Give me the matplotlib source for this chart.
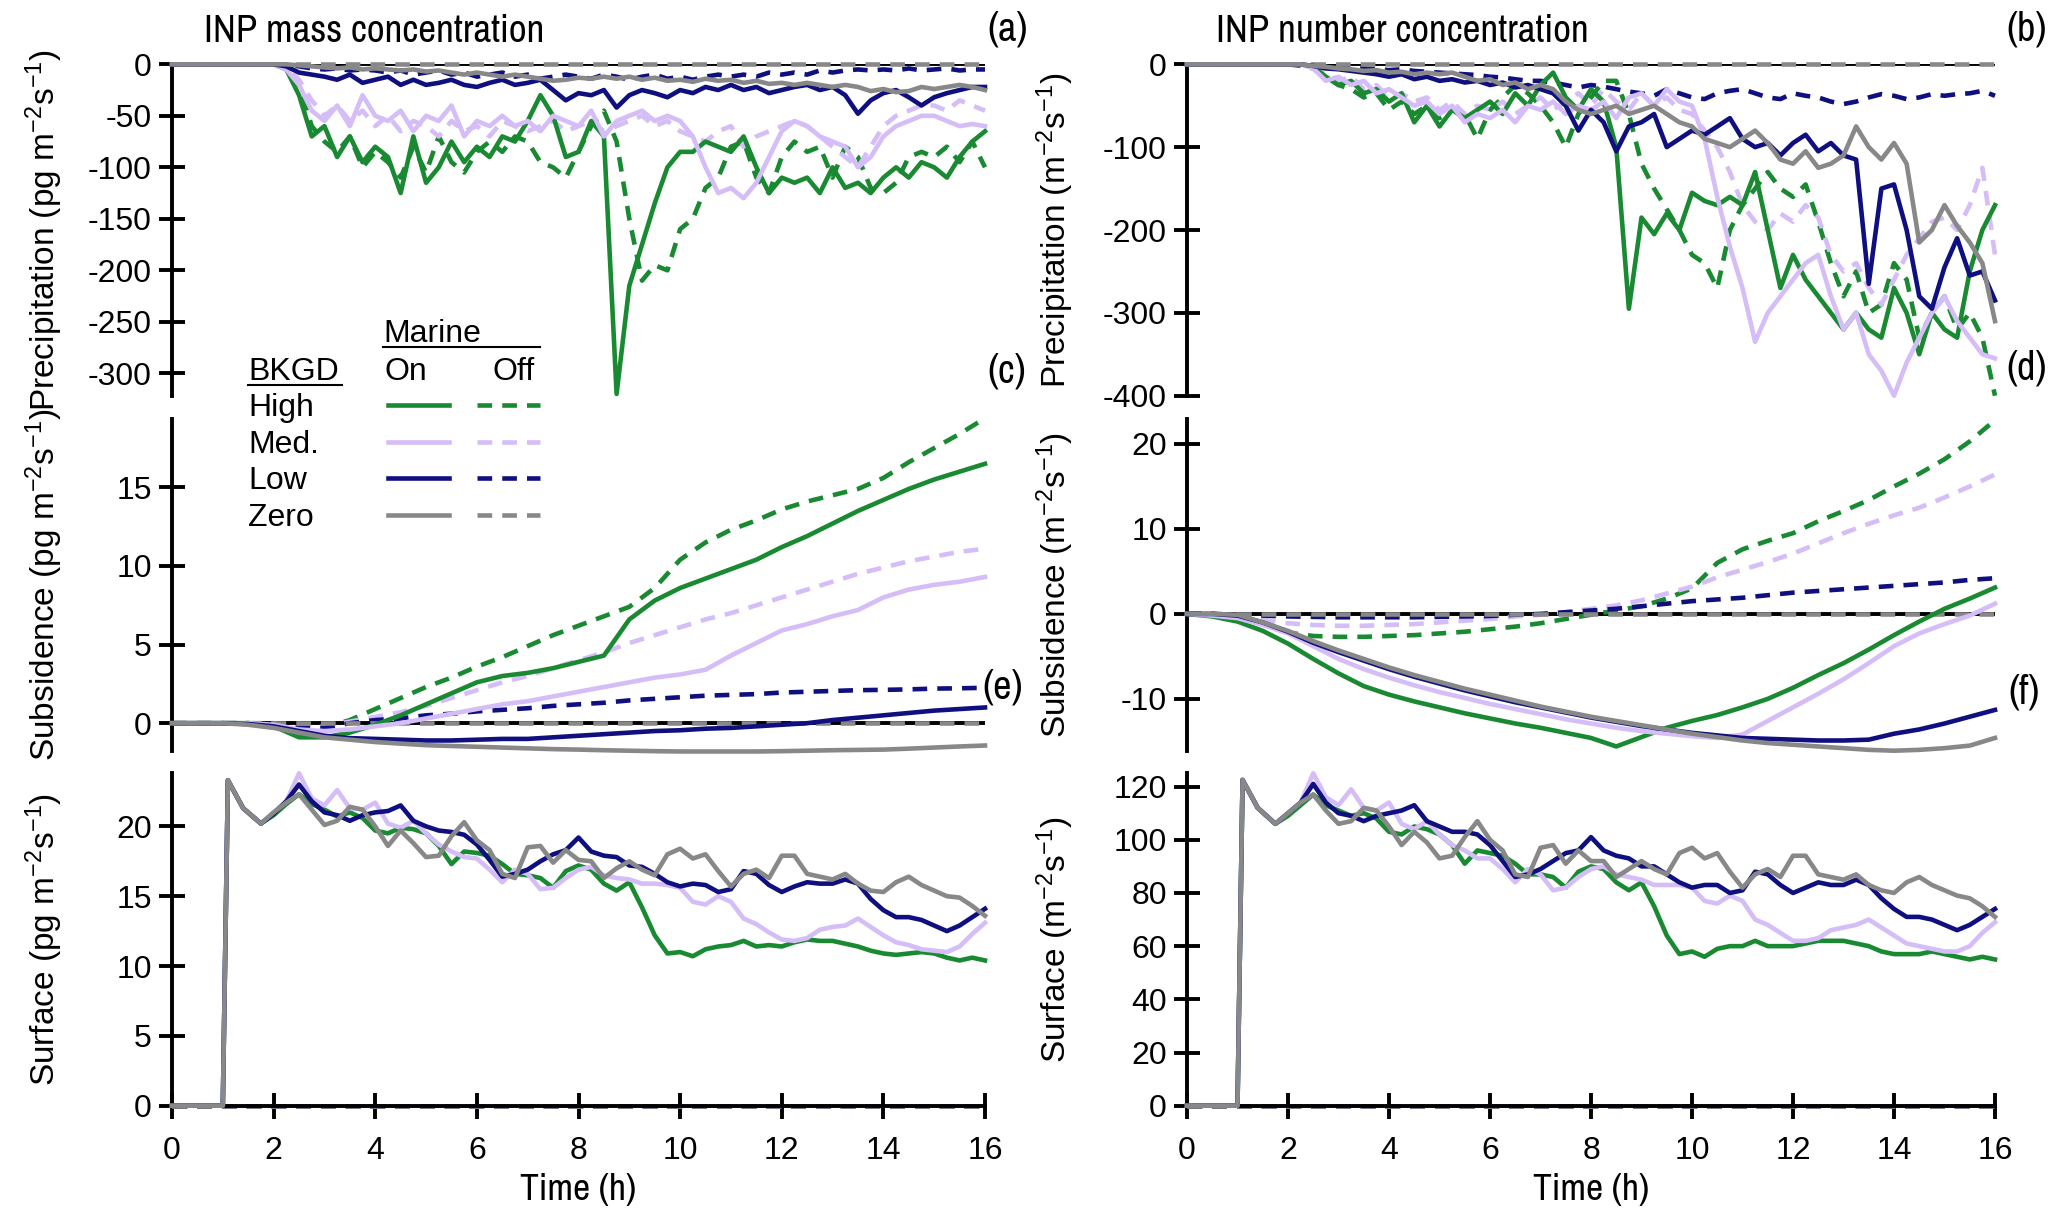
import numpy as np
import matplotlib
matplotlib.use("Agg")
from matplotlib import pyplot as plt
from matplotlib.lines import Line2D

plt.rcParams["font.family"] = ["Liberation Sans", "DejaVu Sans"]
plt.rcParams["mathtext.fontset"] = "custom"
plt.rcParams["mathtext.rm"] = "Liberation Sans"
plt.rcParams["mathtext.it"] = "Liberation Sans:italic"
plt.rcParams["mathtext.default"] = "regular"
plt.rcParams["axes.unicode_minus"] = False

NARROW = ["Archivo Narrow", "Liberation Sans", "DejaVu Sans"]

# ---------------- data ----------------
# precipitation: t = 0, then 2.0 ... 16.0 every 0.25 h
prec_time = np.concatenate([[0.0], np.arange(2.0, 16.01, 0.25)])

a_high_on = [0,
    0, -5, -30, -70,  -60, -90, -70, -95,  -80, -90, -125, -70,  -115, -100, -75, -95,
    -80, -90, -70, -75,  -55, -30, -50, -90,  -85, -55, -70, -320,  -215, -175, -135, -100,
    -85, -85, -75, -80,  -85, -70, -100, -125,  -110, -115, -110, -125,  -100, -120, -115, -125,
    -110, -100, -110, -95,  -100, -110, -90, -75,  -65]
a_high_off = [0,
    0, -3, -20, -60,  -75, -85, -70, -100,  -85, -95, -110, -80,  -105, -70, -95, -105,
    -85, -75, -85, -70,  -75, -95, -100, -110,  -85, -60, -45, -75,  -150, -210, -195, -200,
    -160, -150, -120, -110,  -80, -75, -110, -125,  -90, -75, -85, -80,  -110, -80, -90, -120,
    -125, -115, -90, -85,  -90, -80, -95, -75,  -100]
a_med_on = [0,
    0, -5, -20, -45,  -55, -40, -60, -30,  -50, -55, -45, -65,  -50, -55, -40, -70,
    -55, -60, -50, -60,  -55, -65, -50, -55,  -60, -45, -70, -55,  -50, -45, -55, -50,
    -55, -70, -100, -125,  -120, -130, -115, -90,  -65, -55, -60, -70,  -75, -80, -100, -90,
    -70, -60, -55, -50,  -50, -55, -60, -58,  -60]
a_med_off = [0,
    0, -3, -15, -35,  -50, -40, -55, -45,  -60, -50, -65, -55,  -60, -70, -55, -65,
    -60, -70, -55, -60,  -65, -60, -55, -65,  -60, -55, -65, -60,  -55, -50, -60, -55,
    -65, -70, -75, -65,  -60, -80, -70, -65,  -60, -55, -60, -70,  -80, -90, -100, -80,
    -60, -50, -45, -40,  -40, -45, -35, -40,  -45]
a_low_on = [0,
    0, -2, -8, -10,  -12, -15, -10, -18,  -15, -12, -20, -15,  -20, -18, -15, -20,
    -22, -18, -15, -20,  -18, -15, -25, -35,  -28, -30, -25, -42,  -30, -25, -28, -32,
    -25, -28, -22, -25,  -20, -25, -22, -28,  -25, -22, -20, -25,  -22, -30, -48, -35,
    -28, -25, -32, -40,  -32, -28, -25, -22,  -22]
a_low_off = [0,
    0, 0, -2, -4,  -5, -4, -6, -5,  -6, -8, -6, -10,  -8, -6, -10, -8,
    -12, -10, -8, -12,  -10, -14, -12, -10,  -12, -14, -10, -12,  -15, -12, -10, -14,
    -12, -15, -12, -10,  -12, -10, -12, -8,  -10, -8, -10, -6,  -8, -6, -5, -6,
    -5, -6, -4, -6,  -5, -4, -6, -5,  -5]
a_zero_on = [0,
    0, 0, -1, -2,  -3, -4, -3, -5,  -4, -5, -6, -5,  -7, -6, -8, -10,
    -8, -10, -12, -10,  -12, -14, -16, -15,  -13, -14, -12, -14,  -12, -15, -13, -16,
    -15, -17, -14, -16,  -15, -18, -16, -19,  -18, -20, -18, -20,  -22, -20, -22, -26,
    -24, -27, -26, -22,  -24, -22, -20, -22,  -25]
a_zero_off = np.zeros(len(prec_time))

b_high_on = [0,
    0, 0, -3, -15,  -25, -20, -35, -30,  -45, -35, -70, -50,  -75, -55, -65, -55,
    -45, -60, -35, -50,  -25, -10, -40, -55,  -30, -45, -100, -295,  -185, -205, -180, -200,
    -155, -165, -170, -160,  -170, -130, -200, -270,  -230, -260, -280, -300,  -320, -300, -320, -330,
    -270, -300, -350, -300,  -320, -330, -250, -200,  -170]
b_high_off = [0,
    0, -2, -5, -15,  -25, -30, -40, -35,  -55, -45, -60, -50,  -65, -55, -60, -90,
    -55, -40, -25, -35,  -50, -70, -100, -60,  -40, -20, -20, -60,  -120, -150, -175, -200,
    -230, -240, -270, -200,  -170, -150, -130, -150,  -160, -145, -190, -240,  -280, -250, -300, -290,
    -240, -260, -330, -300,  -280, -320, -300, -330,  -400]
b_med_on = [0,
    0, 0, -5, -20,  -15, -25, -20, -35,  -30, -40, -50, -45,  -60, -50, -70, -60,
    -65, -55, -70, -50,  -55, -45, -60, -50,  -55, -45, -65, -40,  -35, -50, -30, -45,
    -50, -90, -160, -220,  -270, -335, -300, -280,  -260, -240, -230, -280,  -320, -300, -350, -370,
    -400, -360, -330, -300,  -280, -310, -330, -350,  -355]
b_med_off = [0,
    0, 0, -5, -10,  -20, -15, -30, -25,  -40, -35, -45, -40,  -55, -45, -60, -50,
    -55, -45, -60, -50,  -40, -55, -45, -35,  -50, -30, -45, -55,  -35, -50, -40, -55,
    -60, -80, -100, -130,  -170, -190, -200, -180,  -190, -170, -185, -230,  -250, -240, -270, -290,
    -260, -230, -210, -190,  -185, -200, -170, -125,  -230]
b_low_on = [0,
    0, 0, -2, -5,  -6, -8, -10, -12,  -15, -12, -18, -15,  -20, -18, -22, -20,
    -25, -22, -28, -25,  -30, -35, -50, -80,  -55, -70, -105, -75,  -70, -60, -100, -90,
    -80, -85, -75, -65,  -90, -100, -95, -110,  -95, -85, -105, -95,  -110, -115, -265, -150,
    -145, -200, -280, -295,  -245, -210, -255, -250,  -285]
b_low_off = [0,
    0, 0, -1, -2,  -3, -4, -5, -6,  -7, -6, -8, -9,  -10, -11, -12, -13,
    -15, -16, -18, -20,  -20, -22, -25, -28,  -25, -27, -30, -33,  -35, -38, -30, -35,
    -40, -42, -35, -32,  -30, -35, -40, -42,  -35, -38, -40, -45,  -48, -45, -40, -36,
    -38, -42, -40, -36,  -38, -36, -35, -32,  -38]
b_zero_on = [0,
    0, 0, -2, -3,  -5, -6, -8, -7,  -10, -9, -12, -10,  -12, -10, -15, -20,
    -18, -25, -22, -30,  -25, -30, -45, -55,  -60, -55, -50, -60,  -55, -50, -60, -70,
    -75, -90, -95, -100,  -90, -80, -95, -115,  -120, -105, -125, -120,  -110, -75, -100, -115,
    -95, -120, -215, -200,  -170, -195, -215, -240,  -310]
b_zero_off = np.zeros(len(prec_time))

# subsidence: every 0.5 h
sub_time = np.arange(0.0, 16.01, 0.5)

c_high_on = [0, 0, 0, 0, -0.2, -0.9, -0.9, -0.6, -0.1, 0.5, 1.2, 1.9, 2.6, 3.0, 3.2, 3.5, 3.9,
             4.3, 6.6, 7.8, 8.6, 9.2, 9.8, 10.4, 11.2, 11.9, 12.7, 13.5, 14.2, 14.9, 15.5, 16.0, 16.5]
c_high_off = [0, 0, 0, 0, 0, -0.3, -0.3, 0.2, 0.9, 1.6, 2.3, 2.9, 3.6, 4.2, 4.9, 5.6, 6.2,
              6.8, 7.4, 8.6, 10.4, 11.5, 12.3, 12.9, 13.6, 14.1, 14.5, 14.9, 15.6, 16.6, 17.5, 18.4, 19.4]
c_med_on = [0, 0, 0, 0, -0.1, -0.4, -0.5, -0.4, -0.2, 0.0, 0.3, 0.6, 0.9, 1.2, 1.4, 1.7, 2.0,
            2.3, 2.6, 2.9, 3.1, 3.4, 4.3, 5.1, 5.9, 6.3, 6.8, 7.2, 8.0, 8.5, 8.8, 9.0, 9.3]
c_med_off = [0, 0, 0, 0, -0.1, -0.4, -0.2, 0.1, 0.4, 0.7, 1.1, 1.6, 2.1, 2.6, 3.0, 3.5, 4.0,
             4.5, 5.1, 5.6, 6.1, 6.6, 7.0, 7.5, 8.0, 8.5, 9.0, 9.5, 9.9, 10.3, 10.6, 10.9, 11.1]
c_low_on = [0, 0, 0, -0.05, -0.2, -0.5, -0.8, -0.95, -1.0, -1.05, -1.1, -1.1, -1.05, -1.0, -1.0, -0.9, -0.8,
            -0.7, -0.6, -0.5, -0.45, -0.35, -0.3, -0.2, -0.1, 0.0, 0.2, 0.35, 0.5, 0.65, 0.8, 0.9, 1.0]
c_low_off = [0, 0, 0, 0, -0.1, -0.3, -0.3, 0.0, 0.2, 0.3, 0.5, 0.6, 0.75, 0.85, 0.95, 1.1, 1.2,
             1.3, 1.45, 1.55, 1.65, 1.75, 1.8, 1.85, 1.95, 2.0, 2.05, 2.1, 2.12, 2.15, 2.2, 2.22, 2.25]
c_zero_on = [0, 0, 0, -0.1, -0.3, -0.6, -0.9, -1.05, -1.2, -1.3, -1.4, -1.45, -1.5, -1.55, -1.6, -1.65, -1.68,
             -1.72, -1.75, -1.78, -1.8, -1.8, -1.8, -1.8, -1.78, -1.75, -1.72, -1.7, -1.68, -1.62, -1.55, -1.48, -1.42]
c_zero_off = np.zeros(len(sub_time))

d_high_on = [0, -0.3, -0.9, -2.0, -3.5, -5.3, -7.0, -8.5, -9.5, -10.3, -11.0, -11.7, -12.3, -12.9, -13.4, -14.0, -14.6,
             -15.6, -14.5, -13.4, -12.6, -11.9, -11.0, -10.0, -8.7, -7.2, -5.8, -4.2, -2.5, -0.9, 0.6, 1.8, 3.1]
d_high_off = [0, 0, -0.3, -1.2, -2.2, -2.6, -2.7, -2.7, -2.6, -2.5, -2.3, -2.1, -1.8, -1.5, -1.1, -0.6, -0.1,
              0.4, 0.9, 1.8, 3.0, 6.0, 7.6, 8.6, 9.5, 10.9, 12.1, 13.4, 15.0, 16.5, 18.2, 20.3, 22.8]
d_med_on = [0, -0.2, -0.5, -1.3, -2.3, -3.8, -5.3, -6.5, -7.5, -8.4, -9.2, -9.9, -10.6, -11.2, -11.8, -12.4, -12.9,
            -13.4, -13.8, -14.1, -14.4, -14.6, -14.2, -12.6, -11.0, -9.4, -7.7, -5.8, -3.8, -2.3, -1.2, -0.2, 1.2]
d_med_off = [0, 0, -0.3, -0.7, -1.1, -1.3, -1.4, -1.4, -1.3, -1.2, -1.0, -0.8, -0.6, -0.3, -0.1, 0.2, 0.6,
             1.0, 1.6, 2.4, 3.2, 4.3, 5.2, 6.1, 7.1, 8.3, 9.5, 10.6, 11.6, 12.5, 13.7, 15.0, 16.4]
d_low_on = [0, 0, -0.2, -1.0, -2.1, -3.4, -4.5, -5.5, -6.5, -7.4, -8.2, -9.0, -9.7, -10.4, -11.0, -11.6, -12.2,
            -12.7, -13.2, -13.6, -14.0, -14.3, -14.6, -14.7, -14.8, -14.9, -14.9, -14.8, -14.1, -13.6, -12.9, -12.1, -11.3]
d_low_off = [0, 0, -0.1, -0.2, -0.3, -0.35, -0.4, -0.4, -0.4, -0.4, -0.35, -0.3, -0.25, -0.1, 0.0, 0.2, 0.4,
             0.6, 0.9, 1.2, 1.5, 1.7, 1.9, 2.2, 2.5, 2.7, 2.9, 3.1, 3.3, 3.5, 3.7, 4.0, 4.2]
d_zero_on = [0, 0, -0.1, -1.0, -2.0, -3.2, -4.3, -5.3, -6.3, -7.2, -8.0, -8.8, -9.5, -10.2, -10.9, -11.5, -12.1,
             -12.6, -13.1, -13.6, -14.1, -14.5, -14.9, -15.2, -15.4, -15.6, -15.8, -16.0, -16.1, -16.0, -15.8, -15.5, -14.6]
d_zero_off = np.zeros(len(sub_time))

# surface emission: t = 0, 1.0, 1.1, 1.4, 1.75, then 2.0 ... 16.0 every 0.25 h
surf_time = np.concatenate([[0.0, 1.0, 1.1, 1.4, 1.75], np.arange(2.0, 16.01, 0.25)])

e_high_on = [0, 0, 23.3, 21.3, 20.2,
    20.8, 21.6, 22.3, 21.6,  21.2, 20.7, 21.0, 20.6,  19.7, 19.5, 19.9, 19.8,  19.5, 18.6, 17.3, 18.2,
    18.1, 17.9, 17.3, 16.6,  16.5, 16.3, 15.6, 16.8,  17.2, 16.9, 15.9, 15.4,  16.0, 14.2, 12.2, 10.9,
    11.0, 10.7, 11.2, 11.4,  11.5, 11.8, 11.4, 11.5,  11.4, 11.7, 11.9, 11.8,  11.8, 11.6, 11.4, 11.1,
    10.9, 10.8, 10.9, 11.0,  10.9, 10.6, 10.4, 10.6,  10.4]
e_med_on = [0, 0, 23.3, 21.3, 20.2,
    21.0, 21.8, 23.8, 22.0,  21.5, 22.6, 21.3, 21.2,  21.7, 20.2, 19.9, 20.4,  19.5, 18.7, 18.2, 17.8,
    17.7, 16.9, 16.0, 16.9,  16.6, 15.5, 15.6, 16.3,  16.9, 17.1, 16.5, 16.3,  16.2, 15.9, 15.9, 15.8,
    15.6, 14.6, 14.4, 15.0,  14.6, 13.4, 13.0, 12.4,  11.9, 11.8, 12.0, 12.6,  12.8, 12.9, 13.4, 12.8,
    12.2, 11.7, 11.5, 11.2,  11.1, 11.0, 11.4, 12.3,  13.1]
e_low_on = [0, 0, 23.3, 21.3, 20.2,
    20.9, 21.8, 23.0, 21.8,  21.0, 20.8, 20.4, 20.8,  21.0, 21.1, 21.5, 20.4,  20.0, 19.7, 19.6, 19.4,
    18.7, 17.6, 16.4, 16.6,  16.9, 17.5, 18.0, 18.3,  19.2, 18.2, 17.9, 17.8,  17.2, 17.1, 16.6, 16.0,
    15.7, 15.9, 15.8, 15.3,  15.5, 16.8, 16.6, 15.8,  15.3, 15.7, 16.0, 15.9,  15.9, 16.2, 15.9, 14.8,
    14.0, 13.5, 13.5, 13.3,  12.9, 12.5, 12.9, 13.5,  14.1]
e_zero_on = [0, 0, 23.3, 21.3, 20.2,
    21.0, 21.7, 22.3, 21.2,  20.1, 20.4, 21.4, 21.2,  20.0, 18.6, 19.7, 18.8,  17.8, 17.9, 19.3, 20.3,
    19.0, 18.3, 16.6, 16.3,  18.5, 18.6, 17.4, 18.3,  17.6, 17.5, 16.3, 17.0,  17.5, 16.9, 16.5, 18.0,
    18.4, 17.7, 18.0, 16.8,  15.7, 16.6, 16.9, 16.3,  17.9, 17.9, 16.6, 16.4,  16.2, 16.6, 15.9, 15.4,
    15.3, 16.0, 16.4, 15.8,  15.4, 15.0, 14.9, 14.3,  13.6]
e_off = np.zeros(len(surf_time))

f_high_on = [0, 0, 122.5, 112, 106,
    109, 113, 117, 113,  111, 109, 110, 108,  103, 102, 105, 104,  102, 98, 91, 96,
    95, 94, 91, 87,  87, 86, 82, 88,  90, 89, 84, 81,  84, 75, 64, 57,
    58, 56, 59, 60,  60, 62, 60, 60,  60, 61, 62, 62,  62, 61, 60, 58,
    57, 57, 57, 58,  57, 56, 55, 56,  55]
f_med_on = [0, 0, 122.5, 112, 106,
    110, 114, 125, 116,  113, 119, 112, 111,  114, 106, 104, 107,  102, 98, 96, 93,
    93, 89, 84, 89,  87, 81, 82, 86,  89, 90, 87, 86,  85, 83, 83, 83,
    82, 77, 76, 79,  77, 70, 68, 65,  62, 62, 63, 66,  67, 68, 70, 67,
    64, 61, 60, 59,  58, 58, 60, 65,  69]
f_low_on = [0, 0, 122.5, 112, 106,
    110, 114, 121, 114,  110, 109, 107, 109,  110, 111, 113, 107,  105, 103, 103, 102,
    98, 92, 86, 87,  89, 92, 95, 96,  101, 96, 94, 93,  90, 90, 87, 84,
    82, 83, 83, 80,  81, 88, 87, 83,  80, 82, 84, 83,  83, 85, 83, 78,
    74, 71, 71, 70,  68, 66, 68, 71,  74]
f_zero_on = [0, 0, 122.5, 112, 106,
    110, 114, 117, 111,  106, 107, 112, 111,  105, 98, 103, 99,  93, 94, 101, 107,
    100, 96, 87, 86,  97, 98, 91, 96,  92, 92, 86, 89,  92, 89, 87, 95,
    97, 93, 95, 88,  82, 87, 89, 86,  94, 94, 87, 86,  85, 87, 83, 81,
    80, 84, 86, 83,  81, 79, 78, 75,  71]
f_off = np.zeros(len(surf_time))

levels = ["High", "Med.", "Low", "Zero"]
colors = ["#1a8a32", "#d5bdf8", "#0f0f80", "#888888"]

# ---------------- figure ----------------
W, H = 2067, 1219
fig = plt.figure(figsize=(W / 100, H / 100), dpi=100)


def rect(left, right, top, bottom):
    return [left / W, 1 - bottom / H, (right - left) / W, (bottom - top) / H]


LW = 3.3
DASH = (3.2, 2.2)
AXW = 2.8


def style(ax, ylim, yticks, bottom=False):
    ax.set_xlim(0, 16)
    ax.set_ylim(ylim)
    ax.patch.set_visible(False)
    for s in ["top", "right"]:
        ax.spines[s].set_visible(False)
    ax.spines["left"].set_linewidth(AXW)
    ax.set_yticks(yticks)
    ax.tick_params(axis="y", direction="inout", length=19, width=AXW,
                   labelsize=23, pad=5)
    if bottom:
        ax.spines["bottom"].set_linewidth(AXW)
        ax.set_xticks(range(0, 17, 2))
        ax.tick_params(axis="x", direction="inout", length=19, width=AXW,
                       labelsize=23, pad=12)
    else:
        ax.spines["bottom"].set_visible(False)
        ax.set_xticks([])
        ax.axhline(0, color="black", lw=AXW, zorder=1)


def draw(ax, t, on_series, off_series):
    for y, c in zip(off_series, colors):
        ax.plot(t, y, color=c, lw=LW, ls=(0, DASH), clip_on=False, zorder=2)
    for y, c in zip(on_series, colors):
        ax.plot(t, y, color=c, lw=LW, clip_on=False, zorder=3)


ax_a = fig.add_axes(rect(172, 985, 64.3, 396))
ax_b = fig.add_axes(rect(1187, 1995, 64.3, 395.7))
ax_c = fig.add_axes(rect(172, 985, 419.3, 750.7))
ax_d = fig.add_axes(rect(1187, 1995, 419.3, 750.7))
ax_e = fig.add_axes(rect(172, 985, 773.3, 1105.7))
ax_f = fig.add_axes(rect(1187, 1995, 773.3, 1105.7))

style(ax_a, (-322, 0), range(0, -301, -50))
style(ax_b, (-400, 0), range(0, -401, -100))
style(ax_c, (-1.75, 19.33), [0, 5, 10, 15])
style(ax_d, (-16.1, 22.9), [-10, 0, 10, 20])
style(ax_e, (0, 23.8), [0, 5, 10, 15, 20], bottom=True)
style(ax_f, (0, 125), range(0, 121, 20), bottom=True)

draw(ax_a, prec_time, [a_high_on, a_med_on, a_low_on, a_zero_on],
     [a_high_off, a_med_off, a_low_off, a_zero_off])
draw(ax_b, prec_time, [b_high_on, b_med_on, b_low_on, b_zero_on],
     [b_high_off, b_med_off, b_low_off, b_zero_off])
draw(ax_c, sub_time, [c_high_on, c_med_on, c_low_on, c_zero_on],
     [c_high_off, c_med_off, c_low_off, c_zero_off])
draw(ax_d, sub_time, [d_high_on, d_med_on, d_low_on, d_zero_on],
     [d_high_off, d_med_off, d_low_off, d_zero_off])
draw(ax_e, surf_time, [e_high_on, e_med_on, e_low_on, e_zero_on],
     [e_off, e_off, e_off, e_off])
draw(ax_f, surf_time, [f_high_on, f_med_on, f_low_on, f_zero_on],
     [f_off, f_off, f_off, f_off])

# y labels, centred on each panel
ylabels = [
    (ax_a, 44, "Precipitation (pg m$^{-2}$s$^{-1}$)"),
    (ax_c, 44, "Subsidence (pg m$^{-2}$s$^{-1}$)"),
    (ax_e, 44, "Surface (pg m$^{-2}$s$^{-1}$)"),
    (ax_b, 1055, "Precipitation (m$^{-2}$s$^{-1}$)"),
    (ax_d, 1055, "Subsidence (m$^{-2}$s$^{-1}$)"),
    (ax_f, 1055, "Surface (m$^{-2}$s$^{-1}$)"),
]
for ax, xpx, txt in ylabels:
    pos = ax.get_position()
    fig.text(xpx / W, pos.y0 + pos.height / 2, txt, rotation=90,
             ha="center", va="center", fontsize=24)

for xc in [(172 + 985) / 2, (1187 + 1995) / 2]:
    fig.text(xc / W, 1 - 1190 / H, "Time (h)", ha="center", va="center",
             fontsize=27, family=NARROW)

fig.text(204 / W, 1 - 42 / H, "INP mass concentration", fontsize=28,
         va="baseline", family=NARROW)
fig.text(1216 / W, 1 - 42 / H, "INP number concentration", fontsize=28,
         va="baseline", family=NARROW)

for lab, x, y in [("(a)", 987, 29), ("(c)", 987, 371), ("(e)", 982, 687),
                  ("(b)", 2006, 29), ("(d)", 2006, 368), ("(f)", 2008, 692)]:
    fig.text(x / W, 1 - y / H, lab, fontsize=29, va="center", ha="left",
             family=NARROW)

# legend block
LEG = 23
fig.text(383 / W, 1 - 342 / H, "Marine", fontsize=LEG, va="baseline")
fig.add_artist(Line2D([383 / W, 540 / W], [1 - 347 / H] * 2, color="black", lw=1.5))
fig.text(248 / W, 1 - 380 / H, "BKGD", fontsize=LEG, va="baseline")
fig.add_artist(Line2D([248 / W, 342 / W], [1 - 385 / H] * 2, color="black", lw=1.5))
fig.text(385 / W, 1 - 380 / H, "On", fontsize=LEG, va="baseline")
fig.text(492 / W, 1 - 380 / H, "Off", fontsize=LEG, va="baseline")
for lev, c, yb, yl in zip(levels, colors, [416, 453, 489, 526], [405, 442, 478, 515]):
    fig.text(248 / W, 1 - yb / H, lev, fontsize=LEG, va="baseline")
    fig.add_artist(Line2D([388 / W, 449 / W], [1 - yl / H] * 2, color=c, lw=LW))
    fig.add_artist(Line2D([477 / W, 540 / W], [1 - yl / H] * 2, color=c, lw=LW,
                          ls=(0, DASH)))

fig.savefig("out.png", dpi=100)
